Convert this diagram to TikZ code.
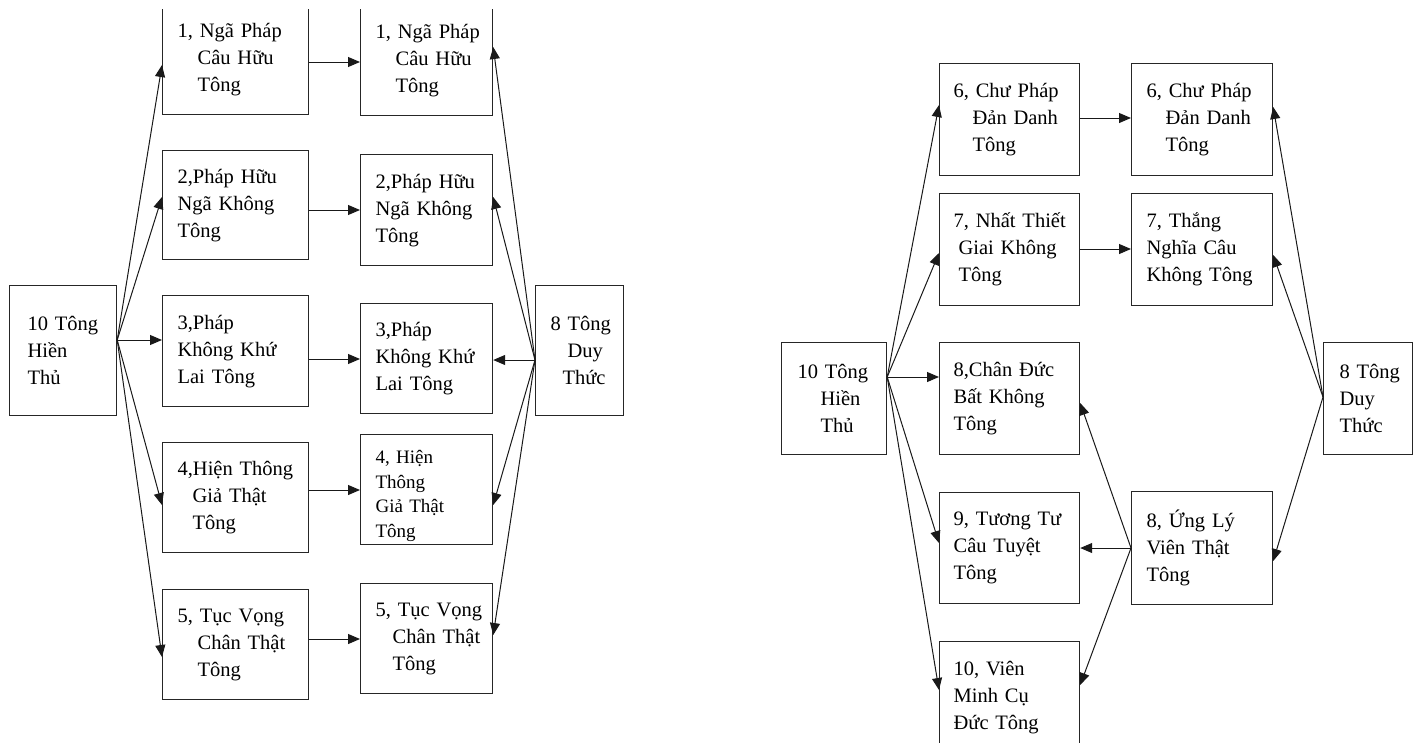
\documentclass[tikz,border=0pt]{standalone}
\usepackage{fontspec}
\setmainfont{Liberation Serif}
\usetikzlibrary{arrows.meta}
\begin{document}
\begin{tikzpicture}[x=1pt,y=-1pt,
  bx/.style={draw=black!85, line width=1.2pt, anchor=north west, align=left, inner ysep=0pt, font=\fontsize{20.5}{27}\selectfont},
  arr/.style={draw=black!90, line width=1pt, -{Triangle[length=12pt,width=10pt]}}]
\useasboundingbox (0,0) rectangle (1419,742);
\begin{scope}
\clip (0,9) rectangle (1419,742);
% ---------- left diagram ----------
\node[bx, inner xsep=18pt, text width=71pt, minimum height=130pt] (l10) at (9,285) {10~Tông\\Hiền\\Thủ};
\node[bx, inner xsep=15pt, text width=116pt, minimum height=110pt] (a1) at (162,4) {1,~Ngã~Pháp\\\hspace*{20pt}Câu~Hữu\\\hspace*{20pt}Tông};
\node[bx, inner xsep=15pt, text width=116pt, minimum height=109pt] (a2) at (162,150) {2,Pháp~Hữu\\Ngã~Không\\Tông};
\node[bx, inner xsep=15pt, text width=116pt, minimum height=111pt] (a3) at (162,295) {3,Pháp\\Không~Khứ\\Lai~Tông};
\node[bx, inner xsep=15pt, text width=116pt, minimum height=110pt] (a4) at (162,442) {4,Hiện~Thông\\\hspace*{15pt}Giả~Thật\\\hspace*{15pt}Tông};
\node[bx, inner xsep=15pt, text width=116pt, minimum height=110pt] (a5) at (162,589) {5,~Tục~Vọng\\\hspace*{20pt}Chân~Thật\\\hspace*{20pt}Tông};
\node[bx, inner xsep=15pt, text width=102pt, minimum height=110pt] (b1) at (360,5) {1,~Ngã~Pháp\\\hspace*{20pt}Câu~Hữu\\\hspace*{20pt}Tông};
\node[bx, inner xsep=15pt, text width=102pt, minimum height=111pt] (b2) at (360,154) {2,Pháp~Hữu\\Ngã~Không\\Tông};
\node[bx, inner xsep=15pt, text width=102pt, minimum height=110pt] (b3) at (360,303) {3,Pháp\\Không~Khứ\\Lai~Tông};
\node[bx, inner xsep=15pt, text width=102pt, minimum height=110pt, font=\fontsize{19}{24.5}\selectfont] (b4) at (360,434) {\rule{0pt}{26pt}4,~Hiện\\Thông\\Giả~Thật\\Tông};
\node[bx, inner xsep=15pt, text width=102pt, minimum height=110pt] (b5) at (360,583) {5,~Tục~Vọng\\\hspace*{17pt}Chân~Thật\\\hspace*{17pt}Tông};
\node[bx, inner xsep=15pt, text width=58pt, minimum height=130pt] (l8) at (535,285) {8~Tông\\\hspace*{17pt}Duy\\\hspace*{12pt}Thức};
% arrows left
\draw[arr] (l10.east |- 0,340) -- (a1.west |- 0,65);
\draw[arr] (l10.east |- 0,340) -- (a2.west |- 0,197);
\draw[arr] (l10.east |- 0,340) -- (a3.west |- 0,340);
\draw[arr] (l10.east |- 0,340) -- (a4.west |- 0,505);
\draw[arr] (l10.east |- 0,340) -- (a5.west |- 0,657);
\draw[arr] (a1.east |- 0,62) -- (b1.west |- 0,62);
\draw[arr] (a2.east |- 0,210) -- (b2.west |- 0,210);
\draw[arr] (a3.east |- 0,359) -- (b3.west |- 0,359);
\draw[arr] (a4.east |- 0,490) -- (b4.west |- 0,490);
\draw[arr] (a5.east |- 0,639) -- (b5.west |- 0,639);
\draw[arr] (l8.west |- 0,360) -- (b1.east |- 0,47);
\draw[arr] (l8.west |- 0,360) -- (b2.east |- 0,197);
\draw[arr] (l8.west |- 0,360) -- (b3.east |- 0,360);
\draw[arr] (l8.west |- 0,360) -- (b4.east |- 0,505);
\draw[arr] (l8.west |- 0,360) -- (b5.east |- 0,635);
% ---------- right diagram ----------
\node[bx, inner xsep=16pt, text width=73pt, minimum height=112pt] (r10) at (781,342) {10~Tông\\\hspace*{23pt}Hiền\\\hspace*{23pt}Thủ};
\node[bx, inner xsep=14pt, text width=112pt, minimum height=112pt] (c1) at (939,63) {6,~Chư~Pháp\\\hspace*{19pt}Đản~Danh\\\hspace*{19pt}Tông};
\node[bx, inner xsep=14pt, text width=112pt, minimum height=112pt] (c2) at (939,193) {7,~Nhất~Thiết\\\hspace*{5pt}Giai~Không\\\hspace*{5pt}Tông};
\node[bx, inner xsep=14pt, text width=112pt, minimum height=112pt] (c3) at (939,342) {8,Chân~Đức\\Bất~Không\\Tông};
\node[bx, inner xsep=14pt, text width=112pt, minimum height=111pt] (c4) at (939,492) {9,~Tương~Tư\\Câu~Tuyệt\\Tông};
\node[bx, inner xsep=14pt, text width=112pt, minimum height=112pt] (c5) at (939,641) {10,~Viên\\Minh~Cụ\\Đức~Tông};
\node[bx, inner xsep=15pt, text width=111pt, minimum height=112pt] (d1) at (1131,63) {6,~Chư~Pháp\\\hspace*{19pt}Đản~Danh\\\hspace*{19pt}Tông};
\node[bx, inner xsep=15pt, text width=111pt, minimum height=112pt] (d2) at (1131,193) {7,~Thắng\\Nghĩa~Câu\\Không~Tông};
\node[bx, inner xsep=15pt, text width=111pt, minimum height=113pt] (d4) at (1131,491) {8,~Ứng~Lý\\Viên~Thật\\Tông};
\node[bx, inner xsep=16pt, text width=57pt, minimum height=112pt] (r8) at (1323,342) {8~Tông\\Duy\\Thức};
% arrows right
\draw[arr] (r10.east |- 0,377) -- (c1.west |- 0,105);
\draw[arr] (r10.east |- 0,377) -- (c2.west |- 0,253);
\draw[arr] (r10.east |- 0,377) -- (c3.west |- 0,377);
\draw[arr] (r10.east |- 0,377) -- (c4.west |- 0,543);
\draw[arr] (r10.east |- 0,377) -- (c5.west |- 0,690);
\draw[arr] (c1.east |- 0,118) -- (d1.west |- 0,118);
\draw[arr] (c2.east |- 0,249) -- (d2.west |- 0,249);
\draw[arr] (r8.west |- 0,397) -- (d1.east |- 0,107);
\draw[arr] (r8.west |- 0,397) -- (d2.east |- 0,255);
\draw[arr] (r8.west |- 0,397) -- (d4.east |- 0,561);
\draw[arr] (d4.west |- 0,548) -- (c3.east |- 0,403);
\draw[arr] (d4.west |- 0,548) -- (c4.east |- 0,548);
\draw[arr] (d4.west |- 0,548) -- (c5.east |- 0,685);
\end{scope}
\end{tikzpicture}
\end{document}
